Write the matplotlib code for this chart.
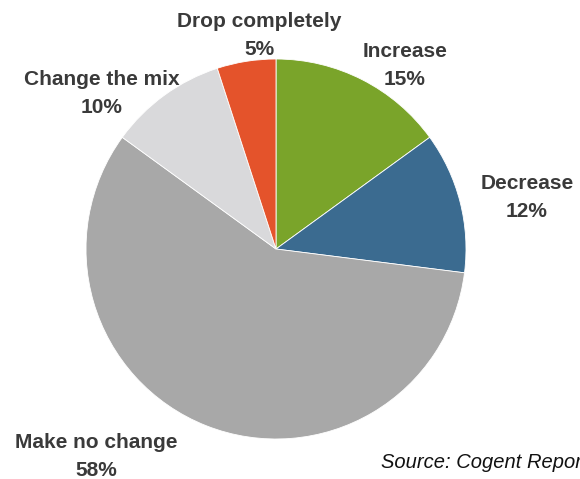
import matplotlib
matplotlib.use("Agg")
import matplotlib.pyplot as plt

categories = ["Increase", "Decrease", "Make no change", "Change the mix", "Drop completely"]
values = [15, 12, 58, 10, 5]
colors = ["#7aa42a", "#3b6b90", "#a8a8a8", "#d9d9db", "#e4532b"]
source = "Source: Cogent Reports"

W, H = 580, 479
fig = plt.figure(figsize=(W / 100, H / 100), dpi=100)
ax = fig.add_axes([0, 0, 1, 1])
ax.set_xlim(0, W)
ax.set_ylim(0, H)
ax.set_aspect("equal")
ax.axis("off")

ax.pie(values, colors=colors, startangle=90, counterclock=False,
       center=(276, H - 249), radius=190,
       wedgeprops=dict(edgecolor="white", linewidth=0.6))
ax.set_xlim(0, W)
ax.set_ylim(0, H)

label_pos = {
    "Increase": (405, 51),
    "Decrease": (527, 183),
    "Make no change": (96, 443),
    "Change the mix": (102, 79),
    "Drop completely": (259, 21),
}
font = dict(family=["Liberation Sans", "DejaVu Sans"], fontweight="bold",
            fontsize=15, color="#3a3a3a", ha="center", va="center")
for cat, v in zip(categories, values):
    x, y = label_pos[cat]
    ax.text(x, H - y, cat, **font)
    ax.text(x, H - (y + 28), f"{v}%", **font)

ax.text(381, H - 462, source, family=["Liberation Sans", "DejaVu Sans"],
        style="italic", fontsize=14.5, color="#111111", ha="left", va="center")

fig.savefig("out.png", dpi=100, facecolor="white")
